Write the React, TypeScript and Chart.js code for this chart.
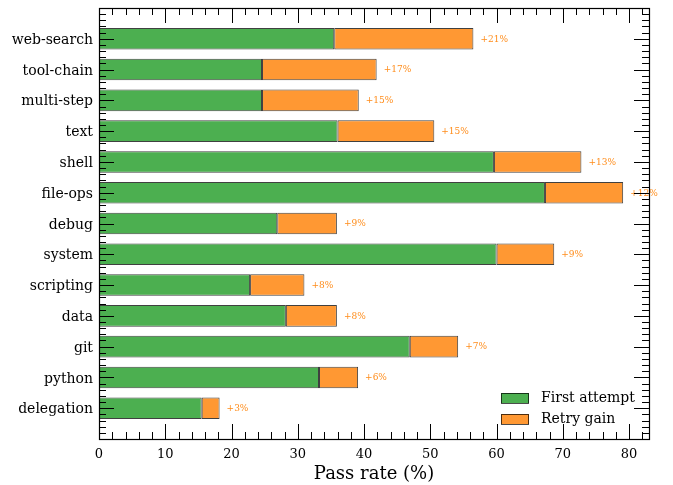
import React, { useEffect, useRef } from "react";
import { Chart, registerables } from "chart.js";

Chart.register(...registerables);

const CATEGORIES = [
  "web-search", "tool-chain", "multi-step", "text", "shell", "file-ops", "debug",
  "system", "scripting", "data", "git", "python", "delegation",
];
const FIRST_ATTEMPT = [35.5, 24.6, 24.6, 36.0, 59.6, 67.3, 26.9, 60.0, 22.8, 28.2, 46.9, 33.2, 15.5];
const RETRY_GAIN = [21.0, 17.3, 14.6, 14.6, 13.2, 11.8, 9.0, 8.7, 8.2, 7.7, 7.3, 5.9, 2.7];
const X_TICKS = [0, 10, 20, 30, 40, 50, 60, 70, 80];

const GREEN = "#4caf50";
const ORANGE = "#ff9833";
const FONT = "'DejaVu Serif', serif";

const overlay = {
  id: "overlay",
  afterDatasetsDraw(chart: any) {
    const { ctx, chartArea: a, scales } = chart;
    const xs = scales.x;
    const ys = scales.y;
    ctx.save();
    // gain labels
    ctx.font = `9px ${FONT}`;
    ctx.fillStyle = "#ff8c1a";
    ctx.textAlign = "left";
    ctx.textBaseline = "middle";
    CATEGORIES.forEach((_, i) => {
      const total = FIRST_ATTEMPT[i] + RETRY_GAIN[i];
      const px = xs.getPixelForValue(total) + 7;
      const py = ys.getPixelForValue(i) + 0.5;
      ctx.fillText(`+${Math.round(RETRY_GAIN[i])}%`, px, py);
    });

    // ticks
    ctx.strokeStyle = "#000";
    ctx.lineWidth = 1;
    ctx.beginPath();
    const xmax = xs.max;
    for (let v = 0; v <= xmax + 1e-6; v += 2) {
      const major = Math.abs(v % 10) < 1e-6;
      const len = major ? 15 : 7;
      const px = Math.round(xs.getPixelForValue(v)) + 0.5;
      ctx.moveTo(px, a.bottom);
      ctx.lineTo(px, a.bottom - len);
      ctx.moveTo(px, a.top);
      ctx.lineTo(px, a.top + len);
    }
    for (let k = -5; k <= 65; k++) {
      const v = k / 5;
      if (v <= ys.min || v >= ys.max) continue;
      const major = k % 5 === 0;
      const len = major ? 15 : 7;
      const py = Math.round(ys.getPixelForValue(v)) + 0.5;
      ctx.moveTo(a.left, py);
      ctx.lineTo(a.left + len, py);
      ctx.moveTo(a.right, py);
      ctx.lineTo(a.right - len, py);
    }
    ctx.stroke();

    // frame
    ctx.lineWidth = 1.2;
    ctx.strokeRect(Math.round(a.left) + 0.5, Math.round(a.top) + 0.5, Math.round(a.right - a.left), Math.round(a.bottom - a.top));

    // legend
    const items = [
      { label: "First attempt", color: GREEN },
      { label: "Retry gain", color: ORANGE },
    ];
    ctx.font = `14px ${FONT}`;
    ctx.textBaseline = "middle";
    items.forEach((it, j) => {
      const top = 393 + j * 21;
      ctx.fillStyle = it.color;
      ctx.fillRect(501, top, 28, 10);
      ctx.lineWidth = 1;
      ctx.strokeStyle = "rgba(0,0,0,0.7)";
      ctx.strokeRect(501.5, top + 0.5, 27, 10);
      ctx.fillStyle = "#000";
      ctx.fillText(it.label, 541, top + 5.5);
    });
    ctx.restore();
  },
};

export default function App() {
  const ref = useRef<HTMLCanvasElement>(null);
  useEffect(() => {
    if (!ref.current) return;
    const chart = new Chart(ref.current, {
      type: "bar",
      data: {
        datasets: [
          {
            label: "First attempt",
            data: FIRST_ATTEMPT.map((v, i) => ({ x: v, y: i })),
            backgroundColor: GREEN,
            borderColor: "rgba(0,0,0,0.75)",
            borderWidth: 1,
            borderSkipped: false,
            barPercentage: 0.7,
            categoryPercentage: 1,
          },
          {
            label: "Retry gain",
            data: RETRY_GAIN.map((v, i) => ({ x: v, y: i })),
            backgroundColor: ORANGE,
            borderColor: "rgba(0,0,0,0.75)",
            borderWidth: 1,
            borderSkipped: false,
            barPercentage: 0.7,
            categoryPercentage: 1,
          },
        ],
      },
      options: {
        indexAxis: "y",
        responsive: false,
        animation: false,
        layout: { padding: { left: 0, top: 8, right: 24, bottom: 0 } },
        plugins: { legend: { display: false }, tooltip: { enabled: false } },
        scales: {
          x: {
            type: "linear",
            stacked: true,
            min: 0,
            max: 83,
            grid: { display: false, drawTicks: false },
            border: { display: false },
            afterBuildTicks: (s: any) => {
              s.ticks = X_TICKS.map((v) => ({ value: v }));
            },
            afterFit: (s: any) => {
              s.height = 46;
              s.paddingLeft = 0;
              s.paddingRight = 0;
            },
            ticks: {
              color: "#000",
              font: { family: FONT, size: 13 },
              padding: 8,
              maxRotation: 0,
              autoSkip: false,
            },
            title: {
              display: true,
              text: "Pass rate (%)",
              color: "#000",
              font: { family: FONT, size: 18 },
              padding: { top: 0, bottom: 0 },
            },
          },
          y: {
            type: "linear",
            stacked: true,
            reverse: true,
            offset: false,
            min: -1,
            max: 13,
            grid: { display: false, drawTicks: false, offset: false },
            border: { display: false },
            afterBuildTicks: (s: any) => {
              s.ticks = CATEGORIES.map((_, i) => ({ value: i }));
            },
            afterFit: (s: any) => {
              s.width = 99;
              s.paddingTop = 0;
              s.paddingBottom = 0;
            },
            ticks: {
              color: "#000",
              font: { family: FONT, size: 14 },
              padding: 6,
              labelOffset: 1.5,
              autoSkip: false,
              callback: (v: any) => CATEGORIES[v as number] ?? "",
            },
          },
        },
      },
      plugins: [overlay],
    } as any);
    return () => chart.destroy();
  }, []);
  return (
    <div style={{ position: "absolute", left: 0, top: 0, width: 673, height: 485, background: "#fff" }}>
      <canvas ref={ref} width={673} height={485} style={{ display: "block", width: 673, height: 485 }} />
    </div>
  );
}
